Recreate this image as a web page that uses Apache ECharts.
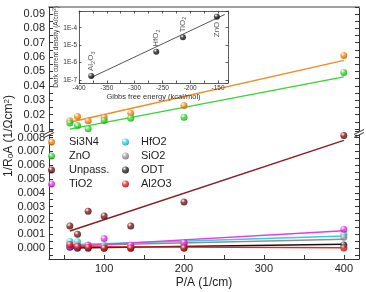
<!DOCTYPE html>
<html><head><meta charset="utf-8">
<script src="https://cdn.jsdelivr.net/npm/echarts@6/dist/echarts.min.js"></script>
<style>html,body{margin:0;padding:0;background:#fff}#c{width:366px;height:292px}</style>
</head><body><div id="c"></div>
<script>
// ---- data ----
const pa = [57.1, 66.7, 80, 100, 133.3, 200, 400];
const si3n4 = [0.0157, 0.0187, 0.0157, 0.0180, 0.0210, 0.0263, 0.0611];
const zno   = [0.0141, 0.0124, 0.0101, 0.0159, 0.0175, 0.0182, 0.0493];
const unpass = [0.00159, 0.00099, 0.00266, 0.00232, 0.00159, 0.00333, 0.00815];
const tio2  = [0.00010, 0.00012, 0.00018, 0.00068, 0.00020, 0.00040, 0.00136];
const hfo2  = [0.00048, 0.00046, 0.00022, 0.00020, 0.00012, 0.00030, 0.00099];
const sio2  = [0.00025, 0.00020, 0.00020, 0.00012, 0.00006, 0.00020, 0.00078];
const odt   = [0.00005, -0.00002, -0.00002, -0.00002, -0.00002, 0.00000, 0.00022];
const al2o3 = [0.00025, 0.00010, 0.00005, 0.00000, 0.00000, 0.00000, 0.00000];

const fitX = [57.1, 400];
const si3n4Fit = [0.0147, 0.0576];
const znoFit   = [0.0099, 0.0462];
const unpassFit = [0.00123, 0.0078];
const tio2Fit  = [0.00012, 0.00125];
const hfo2Fit  = [0.00024, 0.00087];
const sio2Fit  = [0.00018, 0.00063];
const odtFit   = [0.00000, 0.00027];
const al2o3Fit = [0.00010, 0.00002];

// inset
const gibbs = [-378, -261, -213, -152];
const darkJ = [1.7e-7, 4.2e-6, 2.8e-5, 4.3e-4];
const oxideLabels = ['Al{s|2}O{s|3}', 'HfO{s|2}', 'TiO{s|2}', 'ZnO'];
const insetFitX = [-378, -138];
const insetFitY = [1.4e-7, 5.7e-4];

const FONT = 'Liberation Sans, Arial, sans-serif';
const pair = (xs, ys) => xs.map((x, i) => [x, ys[i]]);

const chart = echarts.init(document.getElementById('c'), null, {renderer: 'canvas'});

function ball(c, dark) {
  return new echarts.graphic.RadialGradient(0.35, 0.3, 0.75, [
    {offset: 0, color: '#ffffff'}, {offset: 0.4, color: c}, {offset: 1, color: dark}
  ]);
}
const SER = [
  {name: 'Si3N4', data: si3n4, fit: si3n4Fit, c: '#f7901e', d: '#b85a00', line: '#f28a20', g: 0},
  {name: 'ZnO', data: zno, fit: znoFit, c: '#3ee03e', d: '#119911', line: '#33d633', g: 0},
  {name: 'HfO2', data: hfo2, fit: hfo2Fit, c: '#3fd8ea', d: '#11909f', line: '#33cfe0', g: 1},
  {name: 'SiO2', data: sio2, fit: sio2Fit, c: '#a8a8a8', d: '#666', line: '#8f8f8f', g: 1},
  {name: 'Unpass.', data: unpass, fit: unpassFit, c: '#8a1a1a', d: '#3a0505', line: '#8b1c1c', g: 1},
  {name: 'ODT', data: odt, fit: odtFit, c: '#333', d: '#000', line: '#111', g: 1},
  {name: 'TiO2', data: tio2, fit: tio2Fit, c: '#f040f0', d: '#a010a0', line: '#e838e8', g: 1},
  {name: 'Al2O3', data: al2o3, fit: al2o3Fit, c: '#f03030', d: '#a00000', line: '#ee2222', g: 1}
];

const series = [];
SER.forEach(s => {
  series.push({
    type: 'line', name: s.name + ' fit', xAxisIndex: s.g, yAxisIndex: s.g === 0 ? 0 : 2,
    data: pair(fitX, s.fit), showSymbol: false, symbol: 'none',
    lineStyle: {color: s.line, width: 1.4}, silent: true, z: 3
  });
});
SER.forEach(s => {
  series.push({
    type: 'scatter', name: s.name, xAxisIndex: s.g, yAxisIndex: s.g === 0 ? 0 : 2,
    data: pair(pa, s.data), symbol: 'circle', symbolSize: 7,
    itemStyle: {color: ball(s.c, s.d)}, z: 4
  });
});
// inset
series.push({
  type: 'line', name: 'inset fit', xAxisIndex: 2, yAxisIndex: 4,
  data: pair(insetFitX, insetFitY), symbol: 'none', lineStyle: {color: '#555', width: 1}, z: 5
});
series.push({
  type: 'scatter', name: 'inset', xAxisIndex: 2, yAxisIndex: 4, symbolSize: 6,
  itemStyle: {color: ball('#222', '#000')}, z: 6,
  data: gibbs.map((g, i) => ({
    value: [g, darkJ[i]],
    label: {
      show: true, formatter: oxideLabels[i], rotate: 90,
      position: i === 3 ? 'bottom' : 'top', distance: 2,
      align: i === 3 ? 'right' : 'left', verticalAlign: 'middle',
      fontFamily: FONT, fontSize: 8, color: '#333', lineHeight: 10,
      rich: {s: {fontSize: 5.5, fontFamily: FONT, color: '#333', verticalAlign: 'bottom', lineHeight: 10}}
    }
  }))
});

const tickStyle = {show: true, inside: true, length: 4, lineStyle: {color: '#333', width: 1}};
const lineStyle = {show: true, onZero: false, lineStyle: {color: '#333', width: 1}};
const labelStyle = {fontFamily: FONT, fontSize: 11, color: '#222', margin: 4};
const near = (v, step) => Math.abs(v / step - Math.round(v / step)) < 1e-6;

const insetTick = {show: true, inside: true, length: 2.5, lineStyle: {color: '#333', width: 0.8}};
const insetLine = {show: true, onZero: false, lineStyle: {color: '#333', width: 0.8}};
const insetLabel = {fontFamily: FONT, fontSize: 6.5, color: '#333', margin: 2};

const option = {
  backgroundColor: '#fff',
  animation: false,
  grid: [
    {left: 49, right: 7, top: 7, height: 124},
    {left: 49, right: 7, top: 135, height: 124},
    {left: 79, top: 11, width: 149, height: 72, show: true, backgroundColor: '#fff', borderWidth: 0, z: 5}
  ],
  xAxis: [
    {gridIndex: 0, type: 'value', min: 31, max: 419, position: 'top', splitNumber: 8,
     axisLine: {show: true, onZero: false, lineStyle: {color: '#a0a0a0', width: 2}},
     axisTick: {show: false}, axisLabel: {show: false}, splitLine: {show: false}},
    {gridIndex: 1, type: 'value', min: 31, max: 419, position: 'bottom', splitNumber: 8,
     axisLine: lineStyle, axisTick: tickStyle, splitLine: {show: false},
     axisLabel: Object.assign({}, labelStyle, {formatter: v => near(v, 100) ? String(Math.round(v)) : ''}),
     name: 'P/A (1/cm)', nameLocation: 'middle', nameGap: 18,
     nameTextStyle: {fontFamily: FONT, fontSize: 12, color: '#222'}},
    {gridIndex: 2, type: 'value', min: -400, max: -132, interval: 25, position: 'bottom',
     axisLine: insetLine, axisTick: insetTick, splitLine: {show: false},
     axisLabel: Object.assign({}, insetLabel, {formatter: v => near(v, 50) ? String(Math.round(v)) : ''}),
     name: 'Gibbs free energy (kcal/mol)', nameLocation: 'middle', nameGap: 9,
     nameTextStyle: {fontFamily: FONT, fontSize: 7.5, color: '#333'}, z: 6},
    {gridIndex: 2, type: 'value', min: -400, max: -132, interval: 25, position: 'top',
     axisLine: insetLine, axisTick: insetTick, axisLabel: {show: false}, splitLine: {show: false}, z: 6}
  ],
  yAxis: [
    {gridIndex: 0, type: 'value', min: 0.00861, max: 0.0947, splitNumber: 17, position: 'left',
     axisLine: lineStyle, axisTick: tickStyle, splitLine: {show: false},
     axisLabel: Object.assign({}, labelStyle, {formatter: v => near(v, 0.01) ? v.toFixed(2) : ''})},
    {gridIndex: 0, type: 'value', min: 0.00861, max: 0.0947, splitNumber: 17, position: 'right',
     axisLine: lineStyle, axisTick: tickStyle, axisLabel: {show: false}, splitLine: {show: false}},
    {gridIndex: 1, type: 'value', min: -0.000797, max: 0.00819, splitNumber: 18, position: 'left',
     axisLine: lineStyle, axisTick: tickStyle, splitLine: {show: false},
     axisLabel: Object.assign({}, labelStyle, {formatter: v => near(v, 0.001) ? Math.abs(v).toFixed(3) : ''})},
    {gridIndex: 1, type: 'value', min: -0.000797, max: 0.00819, splitNumber: 18, position: 'right',
     axisLine: lineStyle, axisTick: tickStyle, axisLabel: {show: false}, splitLine: {show: false}},
    {gridIndex: 2, type: 'log', min: 6.76e-8, max: 9.1e-4, position: 'left',
     axisLine: insetLine, axisTick: insetTick, splitLine: {show: false}, minorTick: {show: false},
     axisLabel: Object.assign({}, insetLabel, {formatter: v => {
       const e = Math.log10(v); return Math.abs(e - Math.round(e)) < 1e-6 ? '1E' + Math.round(e) : '';
     }}),
     name: 'Dark current density (A/cm{p|2})', nameLocation: 'middle', nameGap: 15, nameRotate: 90,
     nameTextStyle: {fontFamily: FONT, fontSize: 6.5, color: '#333',
       rich: {p: {fontSize: 4.5, verticalAlign: 'top', fontFamily: FONT, color: '#333'}}}, z: 6},
    {gridIndex: 2, type: 'log', min: 6.76e-8, max: 9.1e-4, position: 'right',
     axisLine: insetLine, axisTick: insetTick, axisLabel: {show: false}, splitLine: {show: false}, z: 6}
  ],
  legend: [
    {data: ['Si3N4', 'ZnO', 'Unpass.', 'TiO2'], orient: 'vertical', left: 48, top: 135,
     itemWidth: 25, itemHeight: 7, itemGap: 0, padding: 0, selectedMode: false,
     textStyle: {fontFamily: FONT, fontSize: 11, lineHeight: 14, color: '#222'}},
    {data: ['HfO2', 'SiO2', 'ODT', 'Al2O3'], orient: 'vertical', left: 122, top: 135,
     itemWidth: 21, itemHeight: 7, itemGap: 0, padding: 0, selectedMode: false,
     textStyle: {fontFamily: FONT, fontSize: 11, lineHeight: 14, color: '#222'}}
  ],
  graphic: [
    {type: 'text', x: 9, y: 136, rotation: Math.PI / 2, z: 10,
     style: {text: '1/R{s|0}A (1/Ωcm{p|2})', align: 'center', verticalAlign: 'middle',
       font: '12px ' + FONT, fill: '#222',
       rich: {s: {fontSize: 8, verticalAlign: 'bottom', fontFamily: FONT, fill: '#222'},
              p: {fontSize: 8, verticalAlign: 'top', fontFamily: FONT, fill: '#222'}}}},
    {type: 'polyline', z: 10, shape: {points: [[44, 134.5], [54, 129.5]]}, style: {stroke: '#333', lineWidth: 1}},
    {type: 'polyline', z: 10, shape: {points: [[44, 137.5], [54, 132.5]]}, style: {stroke: '#333', lineWidth: 1}},
    {type: 'polyline', z: 10, shape: {points: [[354, 134.5], [364, 129.5]]}, style: {stroke: '#333', lineWidth: 1}},
    {type: 'polyline', z: 10, shape: {points: [[354, 137.5], [364, 132.5]]}, style: {stroke: '#333', lineWidth: 1}}
  ],
  series: series
};
chart.setOption(option);
</script></body></html>
